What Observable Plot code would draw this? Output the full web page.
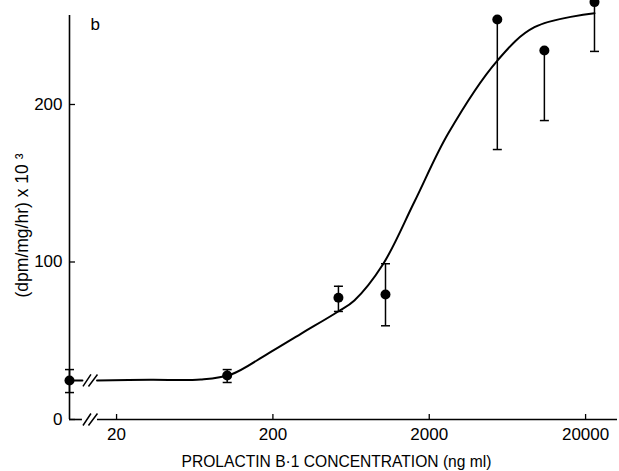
<!DOCTYPE html>
<html>
<head>
<meta charset="utf-8">
<script src="https://cdn.jsdelivr.net/npm/d3@7"></script>
<script src="https://cdn.jsdelivr.net/npm/@observablehq/plot@0.6"></script>
<style>
  html, body { margin: 0; padding: 0; background: #fff; }
  #chart svg { display: block; }
</style>
</head>
<body>
<div id="chart"></div>
<script>
// ---- data ----
// first entry = control (0 ng/ml), drawn at the origin of the broken log axis
const conc    = [10, 102, 525, 1050, 5450, 10900, 22800];
const mean    = [24.8, 27.9, 77.3, 79.4, 254, 234.3, 265];
const errHigh = [31.7, 31.7, 84.6, 98.9, 254, 234.3, 265];
const errLow  = [17.1, 23.5, 68.6, 59.5, 171.4, 189.8, 233.7];

// fitted dose–response curve
const curveConc  = [15, 33, 69, 108, 185, 302, 520, 664, 1010, 1611, 2637, 5457, 9420, 22800];
const curveValue = [24.8, 25.2, 25.4, 28.6, 41.7, 54.4, 68.4, 75.6, 98.4, 138.4, 181.4, 227.9, 249.1, 258];

const xTicks = [20, 200, 2000, 20000];
const yTicks = [0, 100, 200];
const xDomain = [10, 32000];
const yDomain = [0, 256.5];
const breakLo = 12.1, breakHi = 15.1;   // axis break ("//")

const xTitle = "PROLACTIN B\u00B71 CONCENTRATION (ng ml)";
const yTitle = "(dpm/mg/hr) x 10 \u00B3";
const panelLabel = "b";

// ---- tables ----
const points = conc.map((c, i) => ({c, v: mean[i], hi: errHigh[i], lo: errLow[i]}));
const curve = curveConc.map((c, i) => ({c, v: curveValue[i]}));
const lead = [{c: conc[0], v: curveValue[0]}, {c: breakLo, v: curveValue[0]}];
const breaks = [{c: Math.sqrt(breakLo * breakHi), v: 0}, {c: Math.sqrt(breakLo * breakHi), v: curveValue[0]}];

// custom symbols
const capSymbol = {draw(ctx, size) { const r = Math.sqrt(size / Math.PI); ctx.moveTo(-r, 0); ctx.lineTo(r, 0); }};
const breakSymbol = {draw(ctx, size) {
  const k = Math.sqrt(size / Math.PI) / 7;
  ctx.moveTo(-7 * k, 6 * k); ctx.lineTo(1 * k, -6 * k);
  ctx.moveTo(-1.5 * k, 6 * k); ctx.lineTo(7.5 * k, -6 * k);
}};

const chart = Plot.plot({
  width: 619,
  height: 471,
  marginLeft: 69,
  marginRight: 2,
  marginTop: 15,
  marginBottom: 52,
  x: {type: "log", domain: xDomain},
  y: {domain: yDomain},
  style: {fontFamily: "'Liberation Sans', Arial, sans-serif", fontSize: "16px", color: "black", background: "white"},
  marks: [
    // axes lines
    Plot.ruleX([xDomain[0]], {strokeWidth: 1.6}),
    Plot.ruleY([0], {x1: xDomain[0], x2: breakLo, strokeWidth: 1.6}),
    Plot.ruleY([0], {x1: breakHi, x2: xDomain[1], strokeWidth: 1.6}),
    Plot.dot(breaks, {x: "c", y: "v", r: 7, symbol: breakSymbol, fill: "none", stroke: "black", strokeWidth: 1.5}),
    // ticks (inward) and labels
    Plot.axisX(xTicks, {tickSize: 5, dy: -5, tickFormat: () => "", label: null, strokeWidth: 1.3}),
    Plot.axisX(xTicks, {tickSize: 0, tickPadding: 8, tickFormat: d => String(d), label: null, fontSize: 17}),
    Plot.axisY(yTicks, {tickSize: 6, dx: 6, tickFormat: () => "", label: null, strokeWidth: 1.3}),
    Plot.axisY(yTicks, {tickSize: 0, tickPadding: 7, tickFormat: d => String(d), label: null, fontSize: 17}),
    // curve
    Plot.line(lead, {x: "c", y: "v", strokeWidth: 2}),
    Plot.line(curve, {x: "c", y: "v", curve: "catmull-rom", strokeWidth: 2}),
    // error bars
    Plot.ruleX(points, {x: "c", y1: "lo", y2: "hi", strokeWidth: 1.5}),
    Plot.dot(points, {x: "c", y: "lo", r: 4.5, symbol: capSymbol, fill: "none", stroke: "black", strokeWidth: 1.5}),
    Plot.dot(points.filter(d => d.hi > d.v), {x: "c", y: "hi", r: 4.5, symbol: capSymbol, fill: "none", stroke: "black", strokeWidth: 1.5}),
    // points
    Plot.dot(points, {x: "c", y: "v", r: 5, fill: "black"}),
    // texts
    Plot.text([panelLabel], {frameAnchor: "top-left", dx: 21, dy: 2, fontSize: 17}),
    Plot.text([xTitle], {frameAnchor: "bottom", textAnchor: "middle", dx: -7, dy: 47, fontSize: 15.6}),
    Plot.text([yTitle], {frameAnchor: "left", textAnchor: "middle", rotate: -90, dx: -47, dy: 8, fontSize: 17.5})
  ]
});
document.getElementById("chart").appendChild(chart);
</script>
</body>
</html>
